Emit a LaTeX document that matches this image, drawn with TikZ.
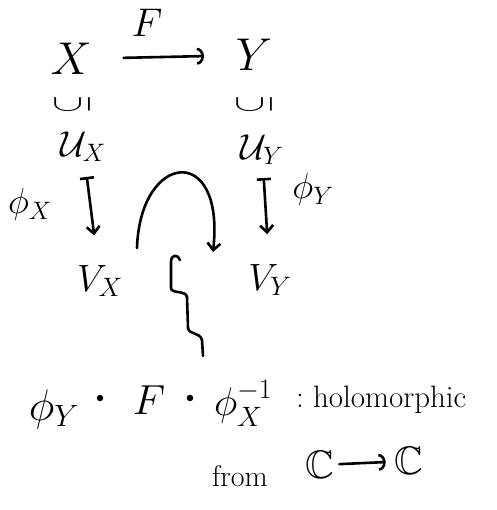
\documentclass[tikz,border=0pt]{standalone}
\usepackage{fix-cm}
\usepackage{amssymb}
\usepackage{graphicx}
\usetikzlibrary{arrows.meta}
\newcommand\fsz[1]{\fontsize{#1}{#1}\selectfont}
\newcommand\vsubset{\rotatebox{90}{\scalebox{0.5}[1]{$\subseteq$}}}
\begin{document}
\begin{tikzpicture}[x=1pt,y=-1pt,
  lbl/.style={inner sep=0pt, outer sep=0pt},
  ink/.style={line width=2.6pt, line cap=round, line join=round},
  hooktip/.style={-{Arc Barb[length=7pt,width=17pt]}},
  tip/.style={-{Straight Barb[length=7pt,width=13pt]}},
  mapsto/.style={{Bar[width=14pt]}-{Straight Barb[length=7pt,width=13pt]}},
  dotn/.style={circle, fill, inner sep=0pt, minimum size=6.5pt},
  ]
\useasboundingbox (0,0) rectangle (496,510);
% top row
\node[lbl,font=\fsz{46}] (X) at (71,59) {$X$};
\node[lbl,font=\fsz{46}] (Y) at (254,55) {$Y$};
\node[lbl,font=\fsz{40}] (F1) at (147,23) {$F$};
\draw[ink,hooktip,shorten <=32pt,shorten >=32pt] (X) -- (Y);
% inclusions
\node[lbl,font=\fsz{46}] (sX) at (72,105) {\vsubset};
\node[lbl,font=\fsz{46}] (sY) at (254,105) {\vsubset};
% charts
\node[lbl,font=\fsz{36}] (UX) at (83,147) {$\mathcal{U}_X$};
\node[lbl,font=\fsz{36}] (UY) at (262,150) {$\mathcal{U}_Y$};
\node[lbl,font=\fsz{38}] (VX) at (100,281) {$V_X$};
\node[lbl,font=\fsz{38}] (VY) at (270,280) {$V_Y$};
\node[lbl,font=\fsz{36}] (phX) at (30,205) {$\phi_X$};
\node[lbl,font=\fsz{36}] (phY) at (313,190) {$\phi_Y$};
\draw[ink,mapsto,shorten <=15pt,shorten >=30pt] (UX) -- (VX);
\draw[ink,mapsto,shorten <=13pt,shorten >=30pt] (UY) -- (VY);
% commuting arc
\draw[ink,tip] (137,248) .. controls (140,152) and (225,142) .. (213,252);
% squiggle
\draw[ink] (180,260) .. controls (178,254) and (171,254) .. (171,262) -- (171,288)
  .. controls (171,294) and (186,290) .. (187,297) -- (188,328)
  .. controls (189,335) and (200,332) .. (202,340) -- (203,356);
% bottom expression
\node[lbl,font=\fsz{44},anchor=base] (phY2) at (54,420) {$\phi_Y$};
\node[dotn] (d1) at (100,398) {};
\node[lbl,font=\fsz{42},anchor=base] (F2) at (149,414) {$F$};
\node[dotn] (d2) at (190,398) {};
\node[lbl,font=\fsz{40},anchor=base west] (phXi) at (214,415) {$\phi_X^{-1}$};
\node[lbl,font=\fsz{31},anchor=base west] (hol) at (296,407) {:\ holomorphic};
\node[lbl,font=\fsz{30},anchor=base west] (from) at (212,486) {from};
\node[lbl,font=\fsz{24.88}] (C1) at (320,465) {\scalebox{1.6}{$\mathbb{C}$}};
\node[lbl,font=\fsz{24.88}] (C2) at (409,461) {\scalebox{1.6}{$\mathbb{C}$}};
\draw[ink,hooktip,shorten <=5pt,shorten >=9pt] (C1) -- (C2);
\end{tikzpicture}
\end{document}
